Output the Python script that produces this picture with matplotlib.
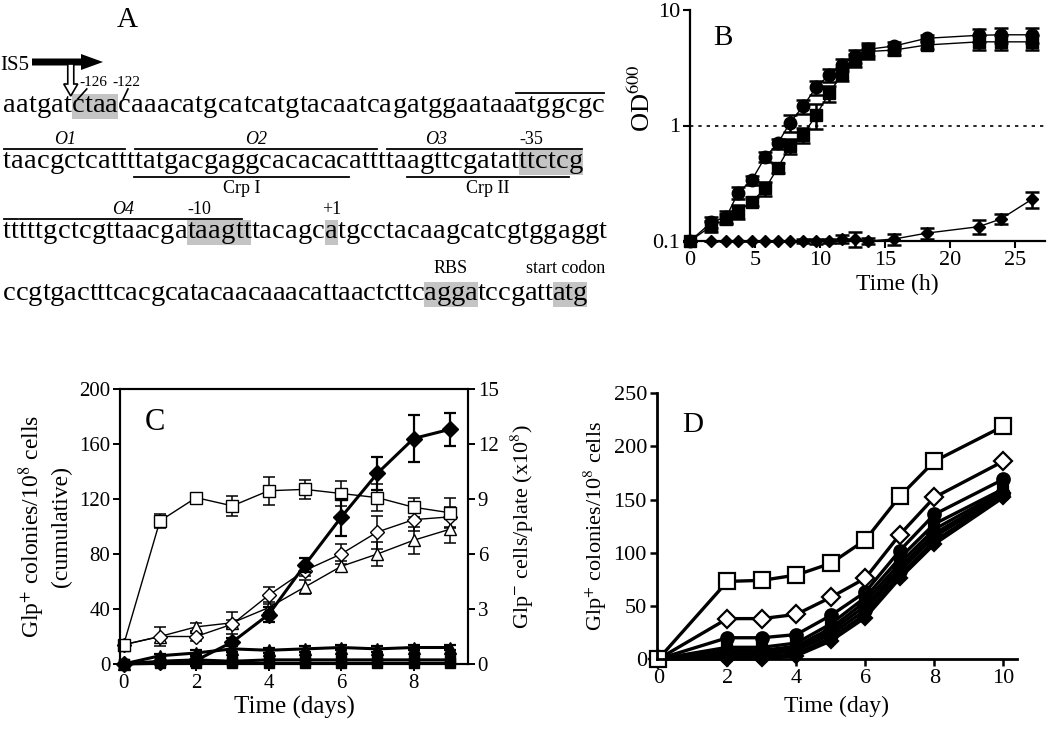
import matplotlib
matplotlib.use('Agg')
import matplotlib.pyplot as plt
from matplotlib.font_manager import FontProperties
from matplotlib.patches import Rectangle, FancyArrow
from matplotlib.ticker import NullLocator

plt.rcParams['font.family'] = ['Liberation Serif', 'DejaVu Serif']
plt.rcParams['mathtext.fontset'] = 'stix'

# ---------------- data ----------------
# panel A: promoter sequence, one string per printed line
seq_rows = ["aatgatctaacaaacatgcatcatgtacaatcagatggaataaatggcgc",
            "taacgctcattttatgacgaggcacacacattttaagttcgatatttctcg",
            "tttttgctcgttaacgataagtttacagcatgcctacaagcatcgtggaggt",
            "ccgtgactttcacgcatacaacaaacattaactcttcaggatccgattatg"]

# panel B: growth (OD600) vs time (h)
b_time = [0, 1.65, 2.8, 3.7, 4.75, 5.8, 6.75, 7.7, 8.7, 9.7, 10.7, 11.7,
          12.7, 13.7, 15.7, 18.2, 22.2, 23.9, 26.3]
b_circle = [0.1, 0.145, 0.162, 0.262, 0.337, 0.536, 0.70, 1.06, 1.47, 2.14,
            2.74, 3.34, 4.0, 4.57, 4.88, 5.69, 6.04, 6.1, 6.1]
b_circle_err = [0, 0.015, 0.02, 0.03, 0.03, 0.05, 0.07, 0.18, 0.2, 0.3,
                0.35, 0.4, 0.5, 0.6, 0.4, 0.4, 0.8, 0.9, 0.9]
b_square = [0.1, 0.135, 0.155, 0.18, 0.219, 0.286, 0.43, 0.665, 0.83, 1.23,
            1.9, 2.8, 3.7, 4.37, 4.5, 4.98, 5.3, 5.3, 5.3]
b_square_err = [0, 0.015, 0.015, 0.025, 0.02, 0.04, 0.04, 0.1, 0.12, 0.3,
                0.3, 0.35, 0.5, 0.6, 0.4, 0.4, 0.8, 0.8, 0.8]
b_diamond = [0.1, 0.1, 0.1, 0.1, 0.1, 0.1, 0.1, 0.1, 0.1, 0.1, 0.101,
             0.104, 0.104, 0.1, 0.104, 0.117, 0.133, 0.155, 0.23]
b_diamond_err = [0, 0, 0, 0, 0, 0, 0, 0, 0.004, 0.005, 0.004, 0.008, 0.015,
                 0.006, 0.012, 0.012, 0.018, 0.015, 0.035]

# panel C: Glp+ colonies (left axis) and Glp- cells (right axis) vs days
c_days = [0, 1, 2, 3, 4, 5, 6, 7, 8, 9]
c_open_sq = [14, 104, 121, 115, 126, 127, 124, 121, 114, 110]
c_open_sq_err = [0, 5, 0, 7, 10, 7, 9, 10, 7, 11]
c_open_dia = [14, 20, 20, 29, 50, 68, 80, 96, 105, 107]
c_open_dia_err = [0, 0, 3, 3, 6, 4, 7, 12, 8, 7]
c_open_tri = [14, 20, 27, 30, 41, 56, 71, 80, 90, 98]
c_open_tri_err = [0, 7, 3, 8, 4, 5, 4, 9, 10, 10]
c_fill_tri = [0, 6, 8, 11, 10, 11, 12, 11, 12, 12]
c_fill_tri_err = [0, 1, 2, 2, 2, 2, 2, 2, 2, 2]
c_fill_sq = [0, 2, 3, 2, 3, 3, 3, 3, 3, 3]
c_fill_sq2 = [0, 0.5, 1, 0.5, 0.5, 0.5, 0.5, 0.5, 0.5, 0.5]
c_cells = [0.0, 0.1, 0.2, 1.2, 2.7, 5.4, 8.0, 10.4, 12.3, 12.8]   # x10^8
c_cells_err = [0, 0, 0.3, 0.2, 0.4, 0.4, 1.0, 0.9, 1.3, 0.9]

# panel D: Glp+ colonies vs day, several strains
d_days = [0, 2, 3, 4, 5, 6, 7, 8, 10]
d_series = [
    ('s', 'white', [0, 73, 74, 79, 90, 112, 153, 186, 219]),
    ('D', 'white', [0, 38, 38, 42, 58, 76, 117, 152, 186]),
    ('o', 'black', [0, 20, 20, 23, 41, 63, 102, 136, 169]),
    ('s', 'black', [0, 11, 11, 15, 33, 58, 95, 127, 160]),
    ('^', 'black', [0, 8, 8, 12, 29, 54, 90, 122, 158]),
    ('D', 'black', [0, 6, 6, 10, 26, 50, 86, 118, 156]),
    ('o', 'black', [0, 4, 4, 8, 23, 46, 83, 115, 155]),
    ('v', 'black', [0, 2, 2, 5, 20, 42, 79, 111, 153]),
    ('D', 'black', [0, 0, 0, 3, 17, 39, 76, 108, 152]),
]

# ---------------- figure ----------------
fig = plt.figure(figsize=(10.5, 7.43), dpi=100)
W, H = 1050.0, 743.0

# panel A drawn in pixel coordinates (y downwards)
ax_a = fig.add_axes([0, 0, 1, 1], zorder=0)
ax_a.set_xlim(0, W)
ax_a.set_ylim(H, 0)
ax_a.axis('off')
renderer = fig.canvas.get_renderer()

seq_x0 = 3
seq_base = [112, 168, 238, 300]
seq_end = [605, 583, 607, 587]       # right edge of each printed line
seq_fp = FontProperties(family='Liberation Serif', size=20.5)


def tw(s):
    if not s:
        return 0.0
    return renderer.get_text_width_height_descent(s, seq_fp, ismath=False)[0]


seq_extra = [(seq_end[r] - seq_x0 - tw(row)) / (len(row) - 1) for r, row in enumerate(seq_rows)]


def cx(r, i):
    return seq_x0 + tw(seq_rows[r][:i]) + i * seq_extra[r]


def span(r, sub, last=False, n=None):
    i = seq_rows[r].rfind(sub) if last else seq_rows[r].find(sub)
    return i, i + (n if n is not None else len(sub))


gray = '#c4c4c4'
lab = 13

# gray boxes
p1 = span(2, 'catgcc')[0] + 1
boxes = [(0, span(0, 'ctaa')), (1, span(1, 'ttctcg', last=True)),
         (2, span(2, 'taagtt')), (2, (p1, p1 + 1)),
         (3, span(3, 'agga')), (3, span(3, 'atg', last=True))]
for r, (i0, i1) in boxes:
    x0, x1 = cx(r, i0), cx(r, i1) - (seq_extra[r] if i1 < len(seq_rows[r]) else 0)
    ax_a.add_patch(Rectangle((x0, seq_base[r] - 18), x1 - x0, 25, color=gray, lw=0, zorder=1))

for r, row in enumerate(seq_rows):
    for i, ch in enumerate(row):
        ax_a.text(cx(r, i), seq_base[r], ch, fontproperties=seq_fp,
                  ha='left', va='baseline', zorder=3)

# over/underlines
overs = [(0, span(0, 'atggcgc', last=True)), (1, (0, 11)), (1, span(1, 'tatgacg', n=20)),
         (1, (span(1, 'taagttcg')[0], len(seq_rows[1]))), (2, (0, 2)),
         (2, (2, span(2, 'taagtt')[0] + 5))]
for r, (i0, i1) in overs:
    ax_a.plot([cx(r, i0) + 1, cx(r, i1) - 1], [seq_base[r] - 19] * 2, color='k', lw=1.3)
unders = [(1, span(1, 'tatgacg', n=17)), (1, (span(1, 'agttcg')[0], len(seq_rows[1]) - 1))]
for r, (i0, i1) in unders:
    ax_a.plot([cx(r, i0), cx(r, i1)], [seq_base[r] + 9] * 2, color='k', lw=1.3)

# labels: (row, span, text, dy, ha, italic)
labels = [(1, (0, 11), 'O1', -24, 'center', True),
          (1, span(1, 'tatgacg', n=20), 'O2', -24, 'center', True),
          (1, span(1, 'aagttcg'), 'O3', -24, 'center', True),
          (1, span(1, 'ttctcg', last=True), '-35', -24, 'left', False),
          (1, span(1, 'tatgacg', n=17), 'Crp I', 25, 'center', False),
          (1, (span(1, 'agttcg')[0], len(seq_rows[1]) - 1), 'Crp II', 25, 'center', False),
          (2, (0, 22), 'O4', -24, 'center', True),
          (2, span(2, 'taagtt'), '-10', -24, 'left', False),
          (2, (p1, p1 + 1), '+1', -24, 'center', False),
          (3, span(3, 'agga'), 'RBS', -27, 'center', False),
          (3, span(3, 'tatg', last=True), 'start codon', -27, 'center', False)]
for r, (i0, i1), t, dy, ha, it in labels:
    x = cx(r, i0) if ha == 'left' else (cx(r, i0) + cx(r, i1)) / 2
    ax_a.text(x, seq_base[r] + dy, t, fontsize=lab, ha=ha, va='baseline',
              fontstyle='italic' if it else 'normal')

ax_a.text(127, 27, 'A', fontsize=21, ha='center', va='baseline')

# IS5 insertion
ax_a.text(0, 70, 'IS5', fontsize=15, ha='left', va='baseline')
ax_a.add_patch(FancyArrow(32, 62, 71, 0, width=7, head_width=16, head_length=22,
                          length_includes_head=True, color='k', lw=0))
xi = cx(0, 6) - 1
ax_a.add_patch(FancyArrow(xi, 64, 0, 32, width=6, head_width=14, head_length=12,
                          length_includes_head=True, fc='white', ec='k', lw=1.2, zorder=4))
ax_a.text(xi + 9, 86, '-126', fontsize=11, ha='left', va='baseline')
ax_a.text(112, 86, '-122', fontsize=11, ha='left', va='baseline')
ax_a.plot([xi + 16, cx(0, 6) + 6], [89, 99], color='k', lw=1.2)
ax_a.plot([128, cx(0, 10) + 5], [89, 99], color='k', lw=1.2)

# ---------------- panel B ----------------
ax_b = fig.add_axes([690 / W, 1 - 241 / H, 355 / W, 231 / H])
ax_b.set_yscale('log')
eb = dict(color='k', lw=1, elinewidth=1.8, capsize=5, capthick=1.8, clip_on=False)
ax_b.errorbar(b_time, b_diamond, yerr=b_diamond_err, fmt='D-', ms=6.5, mfc='k', **eb)
ax_b.errorbar(b_time, b_square, yerr=b_square_err, fmt='s-', ms=8.5, mfc='k', **eb)
ax_b.errorbar(b_time, b_circle, yerr=b_circle_err, fmt='o-', ms=9, mfc='k', **eb)
ax_b.axhline(1, color='k', ls=(0, (2, 3)), lw=1.2)
ax_b.set_ylim(0.1, 10)
ax_b.set_xlim(0, 27.3)
ax_b.set_yticks([0.1, 1, 10])
ax_b.set_yticklabels(['0.1', '1', '10'])
ax_b.yaxis.set_minor_locator(NullLocator())
ax_b.set_xticks([0, 5, 10, 15, 20, 25])
for s in ['top', 'right']:
    ax_b.spines[s].set_visible(False)
for s in ['left', 'bottom']:
    ax_b.spines[s].set_linewidth(1.6)
ax_b.tick_params(labelsize=16, width=1.5, length=5, pad=2)
ax_b.text(0.583, -0.19, 'Time (h)', transform=ax_b.transAxes, fontsize=17, ha='center', va='center')
ax_b.text(-0.135, 0.62, 'OD$^{600}$', transform=ax_b.transAxes, fontsize=19, rotation=90,
          ha='center', va='center')
ax_b.text(0.093, 0.88, 'B', transform=ax_b.transAxes, fontsize=21, ha='center', va='center')

# ---------------- panel C ----------------
ax_c = fig.add_axes([120 / W, 1 - 664 / H, 348 / W, 275 / H])
ax_c2 = ax_c.twinx()
ebt = dict(color='k', lw=1, elinewidth=1.1, capsize=4, capthick=1.1, clip_on=False)
ebk = dict(color='k', lw=2.2, elinewidth=1.6, capsize=4, capthick=1.6, clip_on=False)
ax_c.errorbar(c_days, c_fill_sq2, fmt='s-', ms=7, mfc='k', **ebk)
ax_c.errorbar(c_days, c_fill_sq, fmt='s-', ms=7, mfc='k', **ebk)
ax_c.errorbar(c_days, c_fill_tri, yerr=c_fill_tri_err, fmt='^-', ms=8, mfc='k', **ebk)
ax_c.errorbar(c_days, c_open_tri, yerr=c_open_tri_err, fmt='^-', ms=8.5, mfc='white', **ebt)
ax_c.errorbar(c_days, c_open_dia, yerr=c_open_dia_err, fmt='D-', ms=7, mfc='white', **ebt)
ax_c.errorbar(c_days, c_open_sq, yerr=c_open_sq_err, fmt='s-', ms=8, mfc='white', **ebt)
ax_c2.errorbar(c_days, c_cells, yerr=c_cells_err, fmt='D-', ms=8, mfc='k', **ebk)
ax_c.set_xlim(-0.1, 9.5)
ax_c.set_ylim(0, 200)
ax_c2.set_ylim(0, 15)
ax_c.set_yticks([0, 40, 80, 120, 160, 200])
ax_c2.set_yticks([0, 3, 6, 9, 12, 15])
ax_c.set_xticks([0, 2, 4, 6, 8])
for a in (ax_c, ax_c2):
    for s in a.spines.values():
        s.set_linewidth(1.5)
    a.tick_params(labelsize=15, width=1.4, length=5, pad=2)
ax_c.text(0.1, 0.88, 'C', transform=ax_c.transAxes, fontsize=22, ha='center', va='center')
ax_c.set_xlabel('Time (days)', fontsize=18, labelpad=2)
ax_c.text(-0.255, 0.5, 'Glp$^{+}$ colonies/10$^{8}$ cells', transform=ax_c.transAxes,
          fontsize=17, rotation=90, ha='center', va='center')
ax_c.text(-0.168, 0.5, '(cumulative)', transform=ax_c.transAxes,
          fontsize=17, rotation=90, ha='center', va='center')
ax_c.text(1.155, 0.5, 'Glp$^{-}$ cells/plate (x10$^{8}$)', transform=ax_c.transAxes,
          fontsize=16, rotation=90, ha='center', va='center')

# ---------------- panel D ----------------
ax_d = fig.add_axes([656.7 / W, 1 - 659 / H, 360.3 / W, 265.7 / H])
for mk, fc, vals in reversed(d_series):
    big = fc == 'white'
    ax_d.plot(d_days, vals, marker=mk, color='k', mfc=fc, mew=1.6,
              ms=12 if mk == 's' and big else (9 if big or mk == 'o' else 7.5),
              lw=2.4, clip_on=False)
ax_d.set_xlim(-0.05, 10.4)
ax_d.set_ylim(0, 250)
ax_d.set_xticks([0, 2, 4, 6, 8, 10])
ax_d.set_yticks([0, 50, 100, 150, 200, 250])
for s in ['top', 'right']:
    ax_d.spines[s].set_visible(False)
for s in ['left', 'bottom']:
    ax_d.spines[s].set_linewidth(2)
ax_d.tick_params(labelsize=16, width=1.8, length=5, pad=2)
ax_d.set_xlabel('Time (day)', fontsize=17, labelpad=6)
ax_d.text(-0.17, 0.5, 'Glp$^{+}$ colonies/10$^{8}$ cells', transform=ax_d.transAxes,
          fontsize=16, rotation=90, ha='center', va='center')
ax_d.text(0.1, 0.88, 'D', transform=ax_d.transAxes, fontsize=21, ha='center', va='center')

fig.savefig('out.png', dpi=100)
